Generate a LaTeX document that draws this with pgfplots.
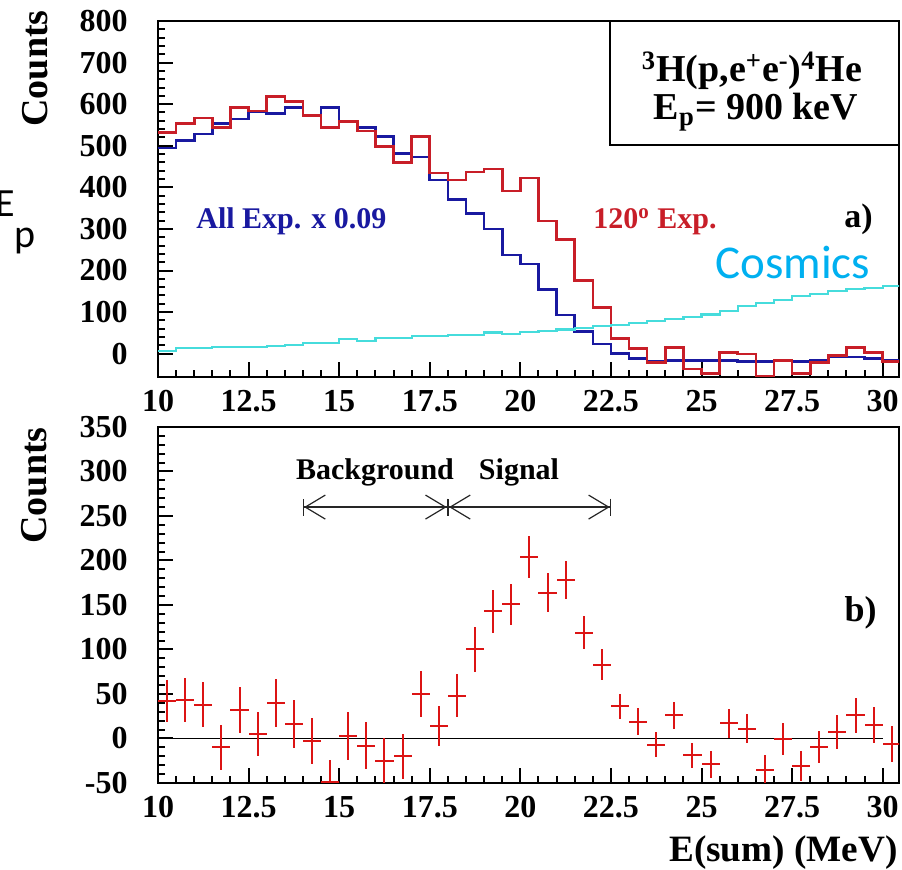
\documentclass[border=0pt]{standalone}
\usepackage{pgfplots}
\pgfplotsset{compat=1.18}
\usepackage{fontspec}
\setmainfont{Liberation Serif}
\newfontfamily\carlito{Carlito}
\usetikzlibrary{arrows.meta}
\definecolor{hred}{RGB}{200,30,40}
\definecolor{hblue}{RGB}{25,25,160}
\definecolor{hcyan}{RGB}{70,220,220}
\definecolor{pred}{RGB}{220,20,20}
\definecolor{cosm}{RGB}{0,176,240}

\pgfplotsset{rootaxis/.style={
  width=370.5pt, height=178pt, scale only axis,
  xmin=10, xmax=30.45,
  xtick={10,12.5,...,30},
  xticklabels={\textbf{10},\textbf{12.5},\textbf{15},\textbf{17.5},\textbf{20},\textbf{22.5},\textbf{25},\textbf{27.5},\textbf{30}},
  minor x tick num=4, minor y tick num=4,
  tick pos=left, tick align=inside,
  major tick length=7.5pt, minor tick length=3.5pt,
  every tick/.style={black, line width=1pt},
  axis line style={line width=1.3pt},
  ticklabel style={font=\fontsize{16}{16}\selectfont\bfseries, inner sep=0pt},
  xticklabel style={anchor=north, yshift=-6.5pt},
  yticklabel style={anchor=east, xshift=-15pt},
  anchor=south west,
}}

\begin{document}
\begin{tikzpicture}
\useasboundingbox (0pt,0pt) rectangle (451pt,435pt);

% ---------- top panel ----------
\begin{axis}[rootaxis, at={(79pt,246.5pt)},
  ymin=-56, ymax=800,
  ytick={0,100,...,800},
  yticklabels={\textbf{0},\textbf{100},\textbf{200},\textbf{300},\textbf{400},\textbf{500},\textbf{600},\textbf{700},\textbf{800}}]
\addplot[const plot, hblue, line width=1.3pt] coordinates {
(10,495)(10.5,512)(11,528)(11.5,554)(12,564)(12.5,583)(13,578)(13.5,592)(14,572)(14.5,592)
(15,559)(15.5,544)(16,522)(16.5,482)(17,473)(17.5,418)(18,371)(18.5,337)(19,300)(19.5,237)
(20,216)(20.5,154)(21,93)(21.5,53)(22,23)(22.5,1)(23,-11)(23.5,-19)(24,-16)(24.5,-16)
(25,-16)(25.5,-17)(26,-19)(26.5,-19)(27,-17)(27.5,-19)(28,-16)(28.5,-7)(29,-8)(29.5,-12)
(30,-17)(30.5,-17)};
\addplot[const plot, hred, line width=1.3pt] coordinates {
(10,532)(10.5,554)(11,567)(11.5,544)(12,592)(12.5,584)(13,618)(13.5,607)(14,572)(14.5,544)
(15,559)(15.5,535)(16,498)(16.5,460)(17,522)(17.5,434)(18,418)(18.5,437)(19,444)(19.5,391)
(20,422)(20.5,319)(21,275)(21.5,176)(22,111)(22.5,37)(23,13)(23.5,-21)(24,15)(24.5,-37)
(25,-47)(25.5,3)(26,-1)(26.5,-55)(27,-17)(27.5,-47)(28,-21)(28.5,-5)(29,15)(29.5,3)
(30,-19)(30.5,-19)};
\addplot[const plot, hcyan, line width=1.1pt] coordinates {
(10,6)(10.5,13)(11,14)(11.5,17)(12,17)(12.5,17)(13,19)(13.5,21)(14,25)(14.5,25)
(15,35)(15.5,31)(16,37)(16.5,37)(17,43)(17.5,43)(18,45)(18.5,45)(19,51)(19.5,48)
(20,52)(20.5,55)(21,58)(21.5,62)(22,66)(22.5,69)(23,73)(23.5,78)(24,84)(24.5,88)
(25,94)(25.5,102)(26,114)(26.5,122)(27,130)(27.5,138)(28,143)(28.5,150)(29,156)(29.5,157)
(30,162)(30.5,162)};
\end{axis}

% ---------- bottom panel ----------
\begin{axis}[rootaxis, at={(79pt,43.5pt)},
  ymin=-50, ymax=350,
  ytick={-50,0,...,350},
  yticklabels={\textbf{-50},\textbf{0},\textbf{50},\textbf{100},\textbf{150},\textbf{200},\textbf{250},\textbf{300},\textbf{350}}]
\addplot[black, line width=0.6pt] coordinates {(10,0) (30,0)};
\addplot[draw=none, mark=none,
  error bars/.cd, x dir=both, x explicit, y dir=both, y explicit, error mark=none,
  error bar style={draw=pred, line width=1pt}]
  table[x=x, y=y, x error=ex, y error=ey] {
x y ex ey
10.25 42 0.25 24
10.75 43 0.25 25
11.25 38 0.25 25
11.75 -10 0.25 25
12.25 32 0.25 26
12.75 5 0.25 25
13.25 40 0.25 27
13.75 16 0.25 27
14.25 -3 0.25 26
14.75 -49 0.25 25
15.25 3 0.25 27
15.75 -8 0.25 26
16.25 -25 0.25 25
16.75 -20 0.25 25
17.25 50 0.25 26
17.75 14 0.25 23
18.25 48 0.25 24
18.75 100 0.25 25
19.25 143 0.25 24
19.75 151 0.25 23
20.25 204 0.25 24
20.75 164 0.25 22
21.25 178 0.25 21
21.75 119 0.25 19
22.25 83 0.25 17
22.75 36 0.25 14
23.25 19 0.25 15
23.75 -7 0.25 14
24.25 26 0.25 15
24.75 -19 0.25 14
25.25 -29 0.25 15
25.75 17 0.25 16
26.25 11 0.25 16
26.75 -35 0.25 16
27.25 -1 0.25 18
27.75 -31 0.25 17
28.25 -10 0.25 18
28.75 7 0.25 19
29.25 26 0.25 20
29.75 15 0.25 20
30.25 -6 0.25 20
};
\draw[line width=0.6pt, black!85,
  {Bar[width=8.5pt]Straight Barb[length=10pt,width=12pt]}-{Straight Barb[length=10pt,width=12pt]Bar[width=8.5pt]}]
  (axis cs:14,260) -- (axis cs:18,260);
\draw[line width=0.6pt, black!85,
  {Bar[width=8.5pt]Straight Barb[length=10pt,width=12pt]}-{Straight Barb[length=10pt,width=12pt]Bar[width=8.5pt]}]
  (axis cs:18,260) -- (axis cs:22.5,260);
\end{axis}

% ---------- labels ----------
\node[rotate=90, anchor=east, inner sep=0pt, font=\fontsize{19}{19}\selectfont\bfseries] at (17.5pt,430pt) {Counts};
\node[rotate=90, anchor=east, inner sep=0pt, font=\fontsize{19}{19}\selectfont\bfseries] at (17pt,221.5pt) {Counts};

\draw[line width=0.8pt, fill=white] (305pt,424.5pt) rectangle (449.5pt,362.5pt);
\node[anchor=base, inner sep=0pt, font=\fontsize{19}{19}\selectfont\bfseries] at (376pt,394pt)
  {\textsuperscript{3}H(p,e\textsuperscript{+}e\textsuperscript{-})\textsuperscript{4}He};
\node[anchor=base, inner sep=0pt, font=\fontsize{19}{19}\selectfont\bfseries] at (378pt,375pt)
  {E\textsubscript{p}= 900 keV};

\node[anchor=base west, inner sep=0pt, text=hblue, font=\fontsize{15}{15}\selectfont\bfseries] at (98pt,320.5pt) {All Exp. x 0.09};
\node[anchor=base west, inner sep=0pt, text=hred, font=\fontsize{15}{15}\selectfont\bfseries] at (296.5pt,320.5pt) {120\textsuperscript{o} Exp.};
\node[anchor=base east, inner sep=0pt, font=\fontsize{17}{17}\selectfont\bfseries] at (436.5pt,321pt) {a)};
\node[anchor=base west, inner sep=0pt, text=cosm, font=\carlito\fontsize{23.5}{23.5}\selectfont] at (357.5pt,295.5pt) {Cosmics};
\node[anchor=base west, inner sep=0pt, font=\carlito\fontsize{20}{20}\selectfont] at (-2.5pt,326.5pt) {E\raisebox{-15.5pt}{p}};

\node[anchor=base east, inner sep=0pt, font=\fontsize{18}{18}\selectfont\bfseries] at (438.5pt,124pt) {b)};
\node[anchor=base, inner sep=0pt, font=\fontsize{15}{15}\selectfont\bfseries] at (187.5pt,195pt) {Background};
\node[anchor=base, inner sep=0pt, font=\fontsize{15}{15}\selectfont\bfseries] at (259.5pt,195pt) {Signal};
\node[anchor=base east, inner sep=0pt, font=\fontsize{18.6}{18.6}\selectfont\bfseries] at (449pt,4pt) {E(sum) (MeV)};
\end{tikzpicture}
\end{document}
